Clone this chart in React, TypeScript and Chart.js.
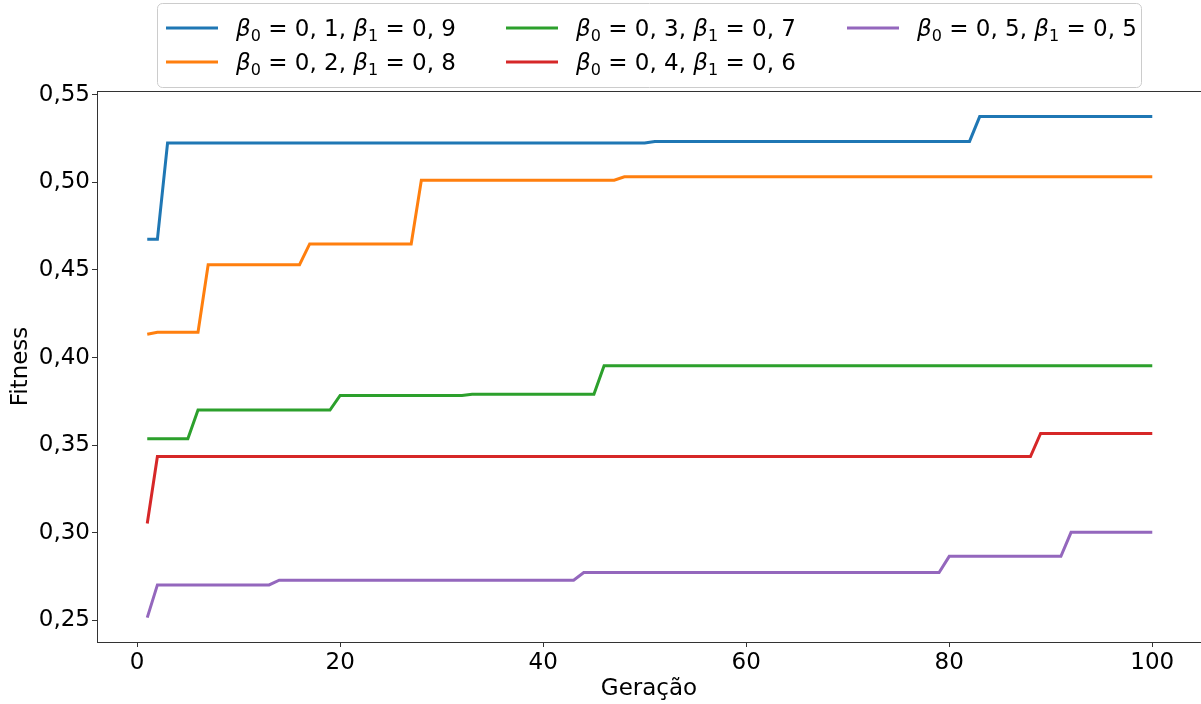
import React, { useEffect, useRef } from "react";
import { Chart, registerables } from "chart.js";

Chart.register(...registerables);

// Generation (x) and fitness (y) change points
const blueX = [1, 2, 3, 50, 51, 82, 83, 100];
const blueY = [0.4675, 0.4675, 0.5225, 0.5225, 0.5234, 0.5234, 0.5376, 0.5376];

const orangeX = [1, 2, 6, 7, 16, 17, 27, 28, 47, 48, 100];
const orangeY = [0.4133, 0.4144, 0.4144, 0.453, 0.453, 0.4649, 0.4649, 0.5013, 0.5013, 0.5032, 0.5032];

const greenX = [1, 5, 6, 19, 20, 32, 33, 45, 46, 100];
const greenY = [0.3536, 0.3536, 0.37, 0.37, 0.3784, 0.3784, 0.379, 0.379, 0.3953, 0.3953];

const redX = [1, 2, 88, 89, 100];
const redY = [0.3053, 0.3435, 0.3435, 0.3567, 0.3567];

const purpleX = [1, 2, 13, 14, 43, 44, 79, 80, 91, 92, 100];
const purpleY = [0.2515, 0.2702, 0.2702, 0.2729, 0.2729, 0.2773, 0.2773, 0.2865, 0.2865, 0.3002, 0.3002];

const seriesLabels = [
  "β₀ = 0, 1, β₁ = 0, 9",
  "β₀ = 0, 2, β₁ = 0, 8",
  "β₀ = 0, 3, β₁ = 0, 7",
  "β₀ = 0, 4, β₁ = 0, 6",
  "β₀ = 0, 5, β₁ = 0, 5",
];
const seriesColors = ["#1f77b4", "#ff7f0e", "#2ca02c", "#d62728", "#9467bd"];
const seriesX = [blueX, orangeX, greenX, redX, purpleX];
const seriesY = [blueY, orangeY, greenY, redY, purpleY];

const xTicks = [0, 20, 40, 60, 80, 100];
const yTicks = [0.25, 0.3, 0.35, 0.4, 0.45, 0.5, 0.55];
const xTitle = "Geração";
const yTitle = "Fitness";

const FONT = '"DejaVu Sans", sans-serif';
const FS = 23;

function drawRich(ctx: CanvasRenderingContext2D, text: string, x: number, y: number, size: number) {
  let cx = x;
  for (const ch of Array.from(text)) {
    if (ch === "₀" || ch === "₁") {
      const d = ch === "₀" ? "0" : "1";
      ctx.font = `${Math.round(size * 0.7)}px ${FONT}`;
      ctx.fillText(d, cx, y + size * 0.22);
      cx += ctx.measureText(d).width;
    } else if (ch === "β") {
      ctx.font = `italic ${size}px ${FONT}`;
      ctx.fillText(ch, cx, y);
      cx += ctx.measureText(ch).width;
    } else {
      ctx.font = `${size}px ${FONT}`;
      ctx.fillText(ch, cx, y);
      cx += ctx.measureText(ch).width;
    }
  }
}

const framePlugin = {
  id: "frame",
  afterDraw(chart: any) {
    const { ctx, chartArea } = chart;
    ctx.save();
    ctx.strokeStyle = "#333";
    ctx.lineWidth = 1;
    ctx.strokeRect(
      Math.round(chartArea.left) + 0.5,
      Math.round(chartArea.top) + 0.5,
      Math.round(chartArea.right - chartArea.left),
      Math.round(chartArea.bottom - chartArea.top)
    );
    ctx.restore();
  },
};

const legendPlugin = {
  id: "mplLegend",
  afterDraw(chart: any) {
    const ctx: CanvasRenderingContext2D = chart.ctx;
    ctx.save();
    const bx = 157.5, by = 3.5, bw = 984, bh = 84, r = 5;
    ctx.beginPath();
    ctx.moveTo(bx + r, by);
    ctx.lineTo(bx + bw - r, by);
    ctx.arcTo(bx + bw, by, bx + bw, by + r, r);
    ctx.lineTo(bx + bw, by + bh - r);
    ctx.arcTo(bx + bw, by + bh, bx + bw - r, by + bh, r);
    ctx.lineTo(bx + r, by + bh);
    ctx.arcTo(bx, by + bh, bx, by + bh - r, r);
    ctx.lineTo(bx, by + r);
    ctx.arcTo(bx, by, bx + r, by, r);
    ctx.closePath();
    ctx.fillStyle = "rgba(255,255,255,0.8)";
    ctx.fill();
    ctx.strokeStyle = "#cccccc";
    ctx.lineWidth = 1;
    ctx.stroke();

    const colX = [166, 506, 847];
    const rowY = [28, 62];
    ctx.textBaseline = "alphabetic";
    ctx.textAlign = "left";
    seriesLabels.forEach((label, i) => {
      const col = Math.floor(i / 2);
      const row = i % 2;
      const x = colX[col];
      const y = rowY[row];
      ctx.strokeStyle = seriesColors[i];
      ctx.lineWidth = 3;
      ctx.beginPath();
      ctx.moveTo(x, y);
      ctx.lineTo(x + 52, y);
      ctx.stroke();
      ctx.fillStyle = "#000";
      drawRich(ctx, label, x + 70, y + FS * 0.36, FS);
    });
    ctx.restore();
  },
};

export default function App() {
  const ref = useRef<HTMLCanvasElement | null>(null);

  useEffect(() => {
    if (!ref.current) return;
    const datasets = seriesLabels.map((label, i) => ({
      label,
      data: seriesX[i].map((x, j) => ({ x, y: seriesY[i][j] })),
      borderColor: seriesColors[i],
      backgroundColor: seriesColors[i],
      borderWidth: 3,
      pointRadius: 0,
      tension: 0,
      fill: false,
    }));

    const chart = new Chart(ref.current, {
      type: "line",
      data: { datasets },
      options: {
        animation: false,
        responsive: false,
        maintainAspectRatio: false,
        layout: { padding: { top: 91, left: 0, right: 0, bottom: 0 } },
        plugins: {
          legend: { display: false },
          tooltip: { enabled: false },
        },
        scales: {
          x: {
            type: "linear",
            min: -3.95,
            max: 104.8,
            afterBuildTicks: (scale: any) => {
              scale.ticks = xTicks.map((v) => ({ value: v }));
            },
            afterFit: (scale: any) => {
              scale.height = 62;
            },
            grid: {
              display: true,
              drawOnChartArea: false,
              drawTicks: true,
              tickLength: 5,
              tickColor: "#333",
            },
            border: { display: false },
            ticks: {
              color: "#000",
              font: { family: FONT, size: FS },
              padding: 2,
              maxRotation: 0,
              callback: (v: any) => String(v),
            },
            title: {
              display: true,
              text: xTitle,
              color: "#000",
              font: { family: FONT, size: FS },
              padding: { top: 0, bottom: 1 },
            },
          },
          y: {
            type: "linear",
            min: 0.2376,
            max: 0.5522,
            afterBuildTicks: (scale: any) => {
              scale.ticks = yTicks.map((v) => ({ value: v }));
            },
            afterFit: (scale: any) => {
              scale.width = 97;
            },
            grid: {
              display: true,
              drawOnChartArea: false,
              drawTicks: true,
              tickLength: 5,
              tickColor: "#333",
            },
            border: { display: false },
            ticks: {
              color: "#000",
              font: { family: FONT, size: FS },
              padding: 2,
              callback: (v: any) => Number(v).toFixed(2).replace(".", ","),
            },
            title: {
              display: true,
              text: yTitle,
              color: "#000",
              font: { family: FONT, size: FS },
              padding: { top: 7, bottom: 0 },
            },
          },
        },
      },
      plugins: [framePlugin, legendPlugin],
    });
    return () => chart.destroy();
  }, []);

  return (
    <div style={{ position: "absolute", left: 0, top: 0, width: 1201, height: 704, background: "#fff" }}>
      <canvas ref={ref} width={1201} height={704} style={{ display: "block" }} />
    </div>
  );
}
